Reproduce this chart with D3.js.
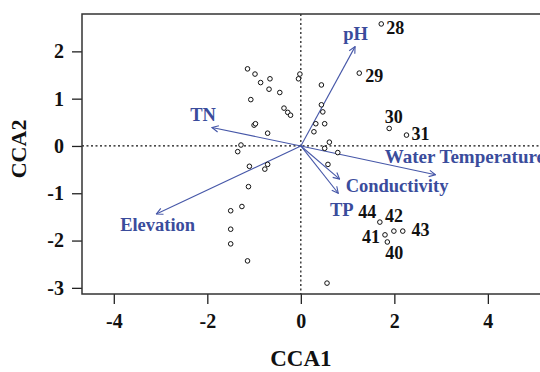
<!DOCTYPE html>
<html>
<head>
<meta charset="utf-8">
<script src="https://cdn.jsdelivr.net/npm/d3@7"></script>
<style>
  body { margin: 0; background: #fff; }
  svg { display: block; font-family: "Liberation Serif", "Times New Roman", serif; font-weight: bold; }
</style>
</head>
<body>
<div id="chart"></div>
<script>
// unlabelled sites
const siteX = [-1.14, -0.98, -0.86, -0.66, -0.68, -0.45, -1.07, -0.02, -0.05, 0.44,
  -0.36, -0.28, -0.22, 0.44, 0.47, -1.00, -0.97, 0.32, 0.51, -0.71,
  0.28, 0.61, -1.28, -1.35, 0.51, 0.79, -1.10, -0.71, -0.77, 0.58,
  -1.12, -1.26, -1.50, -1.50, -1.50, -1.14, 0.56];
const siteY = [1.63, 1.52, 1.34, 1.42, 1.20, 1.13, 0.98, 1.52, 1.42, 1.29,
  0.80, 0.71, 0.65, 0.87, 0.72, 0.44, 0.47, 0.47, 0.47, 0.27,
  0.30, 0.08, 0.02, -0.12, -0.05, -0.14, -0.43, -0.39, -0.49, -0.39,
  -0.86, -1.28, -1.37, -1.76, -2.07, -2.43, -2.90];

// labelled sites
const labelIds = ['28', '29', '30', '31', '44', '42', '43', '41', '40'];
const labelX = [1.72, 1.25, 1.89, 2.26, 1.69, 1.99, 2.18, 1.80, 1.85];
const labelY = [2.58, 1.54, 0.37, 0.23, -1.61, -1.80, -1.80, -1.88, -2.03];

// environmental vectors
const envNames = ['pH', 'Water Temperature', 'Conductivity', 'TP', 'TN', 'Elevation'];
const envX = [1.16, 2.88, 0.83, 0.80, -1.90, -3.09];
const envY = [2.10, -0.61, -0.70, -1.00, 0.39, -1.44];

const xTicks = [-4, -2, 0, 2, 4];
const yTicks = [-3, -2, -1, 0, 1, 2];

const width = 540;
const height = 372;
const margin = { top: 14, bottom: 78, left: 82 };
const blueText = '#3a4c9c';
const blueLine = '#4657a8';

// text placement (anchor, dx, dy) relative to the point / arrow tip
const sitePlace = {
  '28': ['start', 5, 10], '29': ['start', 6, 9], '30': ['middle', 4.5, -5],
  '31': ['start', 5, 5], '44': ['end', -3.5, -4], '42': ['start', -9, -8.6],
  '43': ['start', 8.7, 5.4], '41': ['end', -5, 8], '40': ['middle', 7, 17]
};
const envPlace = {
  'pH': ['middle', 0.5, -7], 'Water Temperature': ['start', -50.7, -11.5],
  'Conductivity': ['start', 6, 13.4], 'TP': ['middle', 3.5, 22.7],
  'TN': ['middle', -9, -7], 'Elevation': ['middle', 1.3, 17.4]
};

const svg = d3.select('#chart')
  .append('svg')
  .attr('width', width)
  .attr('height', height);

const x = d3.scaleLinear().domain([-4.68, 5.5]).range([margin.left, 558]);
const y = d3.scaleLinear().domain([-3.13, 2.79]).range([height - margin.bottom, margin.top]);

svg.append('defs').append('marker')
  .attr('id', 'head')
  .attr('viewBox', '0 0 10 10')
  .attr('refX', 9).attr('refY', 5)
  .attr('markerWidth', 8).attr('markerHeight', 8)
  .attr('markerUnits', 'userSpaceOnUse')
  .attr('orient', 'auto')
  .append('path')
  .attr('d', 'M1,1 L9,5 L1,9')
  .attr('fill', 'none')
  .attr('stroke', blueLine)
  .attr('stroke-width', 1.4);

// zero lines
svg.append('line')
  .attr('x1', x(0)).attr('x2', x(0))
  .attr('y1', y.range()[1]).attr('y2', y.range()[0])
  .attr('stroke', '#111').attr('stroke-width', 1.2).attr('stroke-dasharray', '2,2.5');
svg.append('line')
  .attr('x1', x.range()[0]).attr('x2', x.range()[1])
  .attr('y1', y(0)).attr('y2', y(0))
  .attr('stroke', '#111').attr('stroke-width', 1.2).attr('stroke-dasharray', '2,2.5');

// axes
const xAxis = d3.axisBottom(x).tickValues(xTicks).tickSize(10).tickSizeOuter(0).tickPadding(10)
  .tickFormat(d3.format('d'));
const gx = svg.append('g')
  .attr('transform', `translate(0,${y.range()[0]})`)
  .call(xAxis);
const yAxis = d3.axisLeft(y).tickValues(yTicks).tickSize(10).tickSizeOuter(0).tickPadding(8)
  .tickFormat(d3.format('d'));
const gy = svg.append('g')
  .attr('transform', `translate(${x.range()[0]},0)`)
  .call(yAxis);
[gx, gy].forEach(g => {
  g.select('.domain').remove();
  g.selectAll('.tick line').attr('stroke', '#222').attr('stroke-width', 1.3);
  g.selectAll('.tick text')
    .attr('fill', '#111')
    .style('font-family', '"Liberation Serif", serif')
    .style('font-weight', 'bold')
    .style('font-size', '20px')
    .text(d => String(d).replace('−', '-'));
});

// box
svg.append('rect')
  .attr('x', x.range()[0]).attr('y', y.range()[1])
  .attr('width', x.range()[1] - x.range()[0])
  .attr('height', y.range()[0] - y.range()[1])
  .attr('fill', 'none').attr('stroke', '#333').attr('stroke-width', 1.5);

// arrows
const envData = envNames.map((n, i) => ({ name: n, x: envX[i], y: envY[i] }));
svg.append('g').selectAll('line')
  .data(envData)
  .join('line')
  .attr('x1', x(0)).attr('y1', y(0))
  .attr('x2', d => x(d.x)).attr('y2', d => y(d.y))
  .attr('stroke', blueLine).attr('stroke-width', 1.1)
  .attr('marker-end', 'url(#head)');
svg.append('g').selectAll('text')
  .data(envData)
  .join('text')
  .attr('x', d => x(d.x) + envPlace[d.name][1])
  .attr('y', d => y(d.y) + envPlace[d.name][2])
  .attr('text-anchor', d => envPlace[d.name][0])
  .attr('fill', blueText)
  .style('font-size', d => d.name === 'Water Temperature' ? '19px' : '18.5px')
  .text(d => d.name);

// sites
const sites = siteX.map((v, i) => ({ x: v, y: siteY[i] }));
const labelled = labelIds.map((id, i) => ({ id, x: labelX[i], y: labelY[i] }));
svg.append('g').selectAll('circle')
  .data(sites.concat(labelled))
  .join('circle')
  .attr('cx', d => x(d.x)).attr('cy', d => y(d.y))
  .attr('r', 2.3)
  .attr('fill', '#fff').attr('stroke', '#111').attr('stroke-width', 1);
svg.append('g').selectAll('text')
  .data(labelled)
  .join('text')
  .attr('x', d => x(d.x) + sitePlace[d.id][1])
  .attr('y', d => y(d.y) + sitePlace[d.id][2])
  .attr('text-anchor', d => sitePlace[d.id][0])
  .attr('fill', '#111')
  .style('font-size', '18px')
  .text(d => d.id);

// axis titles
svg.append('text')
  .attr('x', x(0)).attr('y', 366)
  .attr('text-anchor', 'middle')
  .attr('fill', '#111')
  .style('font-size', '23px')
  .text('CCA1');
svg.append('text')
  .attr('transform', `translate(26,${y(0) + 3}) rotate(-90)`)
  .attr('text-anchor', 'middle')
  .attr('fill', '#111')
  .style('font-size', '22px')
  .text('CCA2');
</script>
</body>
</html>
